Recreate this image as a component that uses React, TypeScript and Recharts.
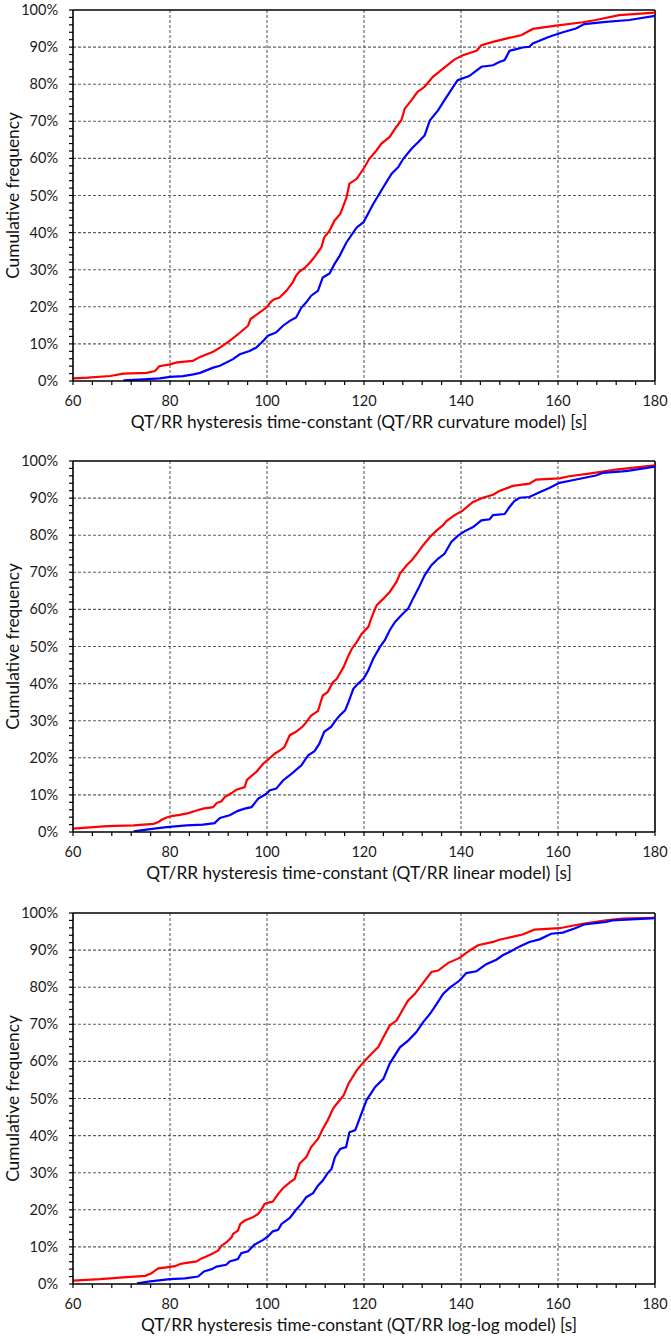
import React from "react";
import {
  CartesianGrid,
  Label,
  Line,
  LineChart,
  ReferenceLine,
  XAxis,
  YAxis,
} from "recharts";

// cumulative frequency curves, [seconds, percent]
const curvatureRed = [
  [60, 0.7], [63, 0.9], [67.7, 1.35], [70.4, 2.0], [75.2, 2.2], [76.9, 2.7], [77.8, 4.0], [80, 4.5],
  [81.4, 5.0], [84.7, 5.4], [86.2, 6.5], [88.9, 7.9], [90.3, 9.0], [92.3, 10.8], [94.4, 13], [96.1, 14.9],
  [96.6, 16.7], [98.5, 18.5], [99.9, 19.8], [100.7, 21.2], [101.4, 22], [102.6, 22.5], [104, 24.3],
  [105.3, 26.6], [106, 28.4], [106.7, 29.5], [107.9, 30.6], [109.1, 32.3], [110, 33.8], [111.2, 36],
  [111.8, 38.7], [112.9, 40.5], [113.9, 43.2], [115.1, 45], [116.4, 49.5], [117, 53.2], [118.5, 54.5],
  [119.9, 57.2], [121.1, 59.9], [122.6, 62.2], [123.6, 64], [125.3, 65.8], [126.4, 68], [127.7, 70.3],
  [128.4, 73.4], [129.8, 75.7], [131, 77.9], [132.5, 79.3], [134.2, 82], [136.3, 84.2], [138.7, 86.7],
  [140.4, 87.8], [143.2, 89], [144.2, 90.5], [146.6, 91.4], [149.3, 92.3], [152.4, 93.2], [154.8, 94.9],
  [159.6, 95.8], [165.1, 96.7], [167.8, 97.3], [172.6, 98.6], [180, 99.3],
];

const curvatureBlue = [
  [70.4, 0.2], [74.5, 0.45], [77.9, 0.7], [80, 1.1], [82.7, 1.3], [84.8, 1.8], [86.2, 2.2], [88.9, 3.6],
  [90.3, 4.1], [93, 5.9], [94.4, 7.2], [96.4, 8.1], [97.8, 9], [99.2, 10.8], [100.2, 12.2], [101.9, 13.1],
  [103.3, 14.9], [104.7, 16.2], [106, 17.1], [107.1, 19.8], [108.1, 21.2], [109.1, 23], [110.5, 24.3],
  [111.5, 27.9], [112.9, 29], [113.9, 31.5], [115, 33.8], [116.4, 37.4], [118.5, 41.4], [119.9, 42.8],
  [121.9, 47.7], [124, 52.3], [125.7, 55.9], [127.1, 57.7], [128.1, 59.9], [129.8, 62.6], [131.2, 64.4],
  [132.5, 66.2], [133.6, 70.3], [135.3, 73], [136.6, 75.7], [139.3, 81.1], [141.7, 82.2], [144.2, 84.7],
  [146.6, 85.1], [147.9, 86], [149, 86.5], [150, 89], [152.7, 89.9], [154.1, 90.1], [154.8, 91],
  [158.2, 92.8], [161, 94], [163.7, 95], [165.4, 96.2], [169.9, 96.8], [174.7, 97.3], [180, 98.4],
];

const linearRed = [
  [60, 0.9], [67, 1.6], [72.5, 1.8], [76.6, 2.2], [77.6, 2.7], [78.3, 3.3], [79.3, 3.9], [80.3, 4.3],
  [82, 4.6], [83.8, 5.1], [85.5, 5.8], [86.8, 6.3], [88.9, 6.7], [89.6, 7.8], [90.6, 8.3], [91.3, 9.4],
  [92.7, 10.5], [93.7, 11.4], [95.4, 12.1], [95.9, 14.1], [97.8, 16.2], [99.2, 18.4], [100.5, 19.8],
  [101.6, 21.1], [102.9, 22.2], [103.6, 22.9], [104.7, 26.1], [106, 27], [107.4, 28.5], [108.1, 29.6],
  [109.1, 31.4], [110.5, 32.6], [111.5, 36.8], [112.5, 37.7], [113.6, 40.4], [114.4, 41.3], [115.8, 44.5],
  [116.8, 47.6], [117.5, 49.4], [118.5, 51.2], [119.5, 53.4], [120.9, 55.3], [121.6, 57.9], [122.6, 61.1],
  [124, 62.9], [125.3, 64.7], [126.7, 67.4], [127.4, 69.6], [128.8, 71.9], [129.8, 73.2], [131.2, 75.5],
  [132.2, 77.3], [133.6, 79.5], [135, 81.3], [136.3, 82.7], [137, 83.8], [138.7, 85.4], [140.4, 86.7],
  [142.4, 88.9], [144.5, 90.1], [146.6, 90.9], [147.9, 91.9], [150.7, 93.3], [154.1, 93.9], [155.5, 95],
  [160.3, 95.3], [162.3, 95.9], [166.4, 96.6], [171.9, 97.7], [180, 98.8],
];

const linearBlue = [
  [72.5, 0.2], [75.5, 0.7], [79.3, 1.3], [83.4, 1.8], [86.8, 2.0], [89.2, 2.4], [90.3, 3.8], [92.3, 4.5],
  [94, 5.7], [95.4, 6.3], [96.8, 6.7], [98.2, 9.0], [99.9, 10.3], [100.5, 11.2], [101.9, 11.7],
  [103.3, 13.9], [104.7, 15.3], [105.7, 16.4], [107.1, 18], [108.5, 20.7], [109.8, 21.8], [110.8, 23.8],
  [111.8, 27], [113.2, 28.3], [114.4, 30.5], [115, 31.4], [116.1, 32.8], [116.8, 35], [117.8, 38.6],
  [118.8, 40], [119.9, 41.3], [120.9, 43.6], [121.9, 46.7], [123.3, 49.9], [124.3, 51.7], [125.3, 54.4],
  [126.4, 56.6], [127.7, 58.4], [129.1, 60.2], [130.1, 62.9], [131.2, 65.6], [132.5, 69.2], [133.9, 71.9],
  [135.3, 73.7], [136.6, 75], [138, 78.2], [139.4, 79.9], [140.8, 81.1], [142.5, 82.2], [144.2, 84],
  [145.9, 84.3], [146.6, 85.4], [149, 85.7], [150, 87.6], [151, 89.2], [152.1, 90.1], [154.1, 90.3],
  [156.2, 91.6], [158.2, 92.7], [160.3, 94.1], [163, 94.8], [167.8, 96.1], [169.2, 96.8], [173.3, 97.2],
  [174.7, 97.4], [180, 98.5],
];

const loglogRed = [
  [60, 0.9], [65.6, 1.3], [70.4, 1.8], [74.9, 2.2], [76.2, 2.9], [76.9, 3.6], [77.6, 4.2], [79.3, 4.5],
  [81, 4.8], [82.1, 5.4], [83.4, 5.7], [85.5, 6.1], [86.5, 6.9], [87.5, 7.4], [88.6, 8.1], [89.9, 9.0],
  [90.6, 10.3], [91.6, 11.2], [92.7, 12.6], [93, 13.5], [94, 14.4], [94.5, 16.2], [95.4, 17.1], [97.1, 18],
  [98.2, 18.9], [98.8, 20], [99.5, 21.6], [100.5, 22], [101.2, 22.2], [102.3, 24.3], [103.3, 25.8],
  [104.7, 27.4], [105.7, 28.3], [106.7, 32.4], [108.1, 34.2], [109.1, 36.9], [110.5, 39.1], [111.5, 41.8],
  [112.5, 44.1], [113.6, 47.2], [114.4, 48.6], [115.8, 50.8], [116.8, 54], [118.5, 57.6], [119.9, 59.8],
  [121.2, 61.6], [122.9, 63.8], [124, 66.5], [125.3, 69.7], [126.7, 71], [128.1, 74.2], [129.1, 76.4],
  [130.5, 78.2], [131.8, 80.5], [133.9, 84.1], [135.3, 84.5], [137.3, 86.5], [139.7, 87.9], [141.8, 89.9],
  [143.5, 91.3], [146.6, 92.2], [147.9, 92.8], [150.3, 93.5], [152.7, 94.2], [155.1, 95.5], [160.3, 95.9],
  [165.1, 97.1], [169.9, 98], [173.3, 98.5], [180, 98.7],
];

const loglogBlue = [
  [73.2, 0.2], [75.9, 0.7], [80, 1.3], [83.1, 1.5], [85.8, 2.0], [87, 3.4], [88.6, 4.0], [89.6, 4.7],
  [91.6, 5.2], [92.3, 6.1], [94, 6.7], [94.7, 8.3], [96.1, 8.8], [97.4, 10.6], [99.2, 11.9], [100.2, 12.8],
  [101.2, 14.2], [102.3, 14.6], [103, 16.2], [104.7, 17.8], [106, 20], [107.1, 21.6], [108.1, 23.4],
  [109.5, 24.5], [110.5, 26.5], [111.5, 27.9], [112.5, 29.9], [113.3, 31], [114, 34.2], [115.1, 36.4],
  [116.3, 36.9], [117, 40.9], [118.2, 41.5], [119.2, 45], [120.5, 49.5], [122.3, 53.1], [124, 55.3],
  [125.3, 59.4], [127.4, 63.8], [129.1, 65.6], [130.8, 67.9], [132.2, 70.6], [133.6, 72.8], [135, 75.5],
  [136.3, 78.2], [137.7, 79.9], [139.7, 81.8], [141.1, 83.8], [143.2, 84.3], [145.2, 86.2], [147.3, 87.4],
  [148.6, 88.6], [150.3, 89.7], [152.1, 91], [154.1, 92.2], [156.2, 92.9], [158.6, 94.4], [161, 94.7],
  [163.4, 95.8], [165.4, 96.9], [169.9, 97.6], [171.2, 98], [180, 98.6],
];

const xTicks = [60, 64, 68, 72, 76, 80, 84, 88, 92, 96, 100, 104, 108, 112, 116, 120, 124, 128, 132, 136, 140, 144, 148, 152, 156, 160, 164, 168, 172, 176, 180];
const xGrid = [80, 100, 120, 140, 160];
const yTicks = [0, 2, 4, 6, 8, 10, 12, 14, 16, 18, 20, 22, 24, 26, 28, 30, 32, 34, 36, 38, 40, 42, 44, 46, 48, 50, 52, 54, 56, 58, 60, 62, 64, 66, 68, 70, 72, 74, 76, 78, 80, 82, 84, 86, 88, 90, 92, 94, 96, 98, 100];
const yGrid = [10, 20, 30, 40, 50, 60, 70, 80, 90];

const panels = [
  { title: "QT/RR hysteresis time-constant (QT/RR curvature model) [s]", red: curvatureRed, blue: curvatureBlue },
  { title: "QT/RR hysteresis time-constant (QT/RR linear model) [s]", red: linearRed, blue: linearBlue },
  { title: "QT/RR hysteresis time-constant (QT/RR log-log model) [s]", red: loglogRed, blue: loglogBlue },
];

const FONT = "Lato, 'Open Sans', sans-serif";
const PLOT_LEFT = 73;
const PLOT_BOTTOM = 381;

const toPoints = (pairs: number[][]) => pairs.map(([x, y]) => ({ x, y }));

function XTick({ x, payload }: any) {
  const major = payload.value % 20 === 0;
  const y = PLOT_BOTTOM;
  return (
    <g>
      <line x1={x} x2={x} y1={y} y2={y + 4} stroke="#000" strokeWidth={1.2} />
      {major && (
        <text x={x} y={y + 25} textAnchor="middle" fontSize={14.5} fill="#1a1a1a" fontFamily={FONT}>
          {payload.value}
        </text>
      )}
    </g>
  );
}

function YTick({ y, payload }: any) {
  const major = payload.value % 10 === 0;
  const x = PLOT_LEFT;
  return (
    <g>
      <line x1={x - 4} x2={x} y1={y} y2={y} stroke="#000" strokeWidth={1.2} />
      {major && (
        <text x={x - 15} y={y + 5} textAnchor="end" fontSize={14.5} fill="#1a1a1a" fontFamily={FONT}>
          {payload.value}%
        </text>
      )}
    </g>
  );
}

function Panel({ title, red, blue }: { title: string; red: number[][]; blue: number[][] }) {
  return (
    <LineChart width={671} height={436} margin={{ top: 10, right: 16, bottom: 0, left: 0 }}>
      <CartesianGrid
        stroke="#5f5f5f"
        strokeWidth={1.1}
        strokeDasharray="3 2"
        horizontalValues={yGrid}
        verticalValues={xGrid}
      />
      <XAxis
        type="number"
        dataKey="x"
        domain={[60, 180]}
        ticks={xTicks}
        interval={0}
        allowDataOverflow
        height={55}
        tickSize={0}
        tickMargin={0}
        tickLine={false}
        tick={<XTick />}
        axisLine={{ stroke: "#000", strokeWidth: 1.6 }}
      >
        <Label
          content={({ viewBox }: any) => (
            <text
              x={viewBox.x + viewBox.width / 2 - 5}
              y={viewBox.y + 47}
              textAnchor="middle"
              fontSize={17.3}
              fill="#111"
              fontFamily={FONT}
            >
              {title}
            </text>
          )}
        />
      </XAxis>
      <YAxis
        type="number"
        domain={[0, 100]}
        ticks={yTicks}
        interval={0}
        allowDataOverflow
        width={73}
        tickSize={0}
        tickMargin={0}
        tickLine={false}
        tick={<YTick />}
        axisLine={{ stroke: "#000", strokeWidth: 1.6 }}
      >
        <Label
          content={({ viewBox }: any) => {
            const cy = viewBox.y + viewBox.height / 2;
            return (
              <text
                x={19}
                y={cy}
                transform={`rotate(-90, 19, ${cy})`}
                textAnchor="middle"
                fontSize={17.3}
                fill="#111"
                fontFamily={FONT}
              >
                Cumulative frequency
              </text>
            );
          }}
        />
      </YAxis>
      <ReferenceLine y={100} stroke="#000" strokeWidth={1.6} />
      <ReferenceLine x={180} stroke="#000" strokeWidth={1.6} />
      <Line
        data={toPoints(red)}
        dataKey="y"
        type="linear"
        stroke="#ff0000"
        strokeWidth={2.2}
        dot={false}
        isAnimationActive={false}
      />
      <Line
        data={toPoints(blue)}
        dataKey="y"
        type="linear"
        stroke="#0000ff"
        strokeWidth={2.2}
        dot={false}
        isAnimationActive={false}
      />
    </LineChart>
  );
}

export default function App() {
  return (
    <div style={{ position: "absolute", left: 0, top: 0, width: 671, height: 1339, background: "#fff" }}>
      {panels.map((p, i) => (
        <div key={p.title} style={{ position: "absolute", left: 0, top: [0, 451, 903][i] }}>
          <Panel title={p.title} red={p.red} blue={p.blue} />
        </div>
      ))}
    </div>
  );
}
